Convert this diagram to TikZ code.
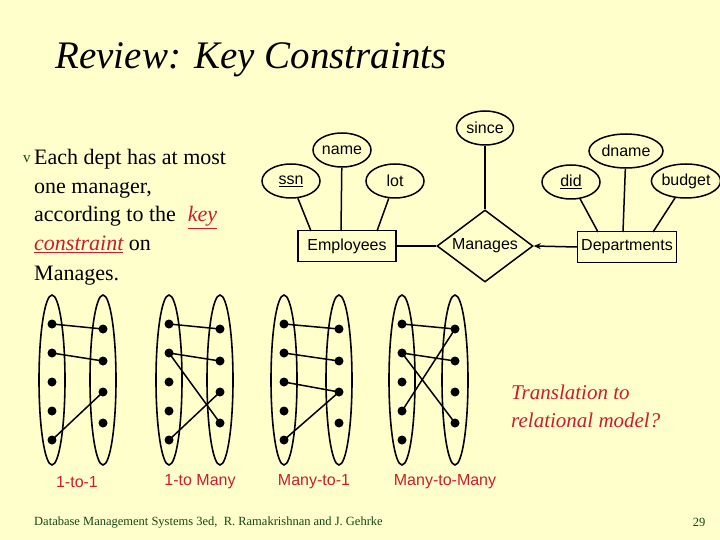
\documentclass[tikz,border=0pt]{standalone}
\usepackage{fontspec}
\setmainfont{Liberation Serif}
\newfontfamily\arialf{Liberation Sans}
\usetikzlibrary{shapes.geometric,arrows.meta}
\definecolor{bg}{RGB}{255,255,204}
\definecolor{lblred}{RGB}{200,30,50}
\definecolor{ftgreen}{RGB}{20,70,20}
\begin{document}
\begin{tikzpicture}[x=1pt,y=-1pt,
  attr/.style={ellipse,draw,line width=1.5pt,font=\arialf\fontsize{16}{18}\selectfont,inner sep=0pt,minimum height=34pt},
  ent/.style={rectangle,draw,line width=1.5pt,font=\arialf\fontsize{16}{18}\selectfont,minimum height=31pt,inner sep=0pt},
  rel/.style={diamond,draw,line width=1.5pt,font=\arialf\fontsize{16}{18}\selectfont,minimum width=96pt,minimum height=72pt,inner sep=0pt,aspect=1.33},
  ln/.style={line width=1.5pt},
  set/.style={ellipse,draw,line width=1.6pt,minimum width=26pt,minimum height=170pt,inner sep=0pt},
  dot/.style={circle,fill,inner sep=0pt,minimum size=9pt},
  body/.style={font=\fontsize{22}{24}\selectfont,anchor=base west,inner sep=0pt},
  lbl/.style={font=\arialf\fontsize{16}{18}\selectfont,text=lblred}]
\fill[bg] (0,0) rectangle (720,540);
\useasboundingbox (0,0) rectangle (720,540);
\node[anchor=west,font=\itshape\fontsize{39}{44}\selectfont] (title) at (52,60) {Review: Key Constraints};
\node[body,text=ftgreen,font=\fontsize{15}{16}\selectfont] (bul) at (23,163) {v};
\node[body] (t1) at (34,165) {Each dept has at most};
\node[body] (t2) at (34,194) {one manager,};
\node[body] (t3) at (34,222) {according to the\hspace{12pt}\textcolor{lblred}{\itshape\underline{key}}};
\node[body] (t4) at (34,251) {\textcolor{lblred}{\itshape\underline{constraint}} on};
\node[body] (t5) at (34,280) {Manages.};
% ER
\node[ent,minimum width=98pt] (emp) at (347,246) {Employees};
\node[rel] (man) at (485,246) {Manages};
\node[ent,minimum width=99pt] (dep) at (627,247) {Departments};
\node[attr,minimum width=57pt] (since) at (485,128) {since};
\node[attr,minimum width=58pt] (name) at (342,150) {name};
\node[attr,minimum width=58pt] (ssn) at (291,181) {\underline{ssn}};
\node[attr,minimum width=58pt] (lot) at (395,181) {lot};
\node[attr,minimum width=74pt] (dname) at (626,151) {dname};
\node[attr,minimum width=58pt] (did) at (571,182) {\underline{did}};
\node[attr,minimum width=67pt] (budget) at (686,181) {budget};
\draw[ln] (since) -- (man.north);
\draw[ln] (ssn) -- (311,231);
\draw[ln] (name) -- (341,231);
\draw[ln] (lot) -- (377,231);
\draw[ln] (did) -- (598,232);
\draw[ln] (dname) -- (623,232);
\draw[ln] (budget) -- (653,232);
\draw[ln] (emp.east) -- (man.west);
\draw[ln,-{Stealth[length=7pt,width=6pt]}] (dep.west) -- (man.east);
% sets
\foreach \g/\lx/\rx in {1/52/103,2/169/220,3/284/339,4/402/455}{
  \node[set] (L\g) at (\lx,380) {};
  \node[set] (R\g) at (\rx,380) {};
  \foreach \i/\y in {1/324,2/353,3/382,4/411,5/440}{\node[dot] (l\g\i) at (\lx,\y) {};}
  \foreach \i/\y in {1/329,2/361,3/392,4/423}{\node[dot] (r\g\i) at (\rx,\y) {};}
}
\draw[ln] (l11.center)--(r11.center) (l12.center)--(r12.center) (l15.center)--(r13.center);
\draw[ln] (l21.center)--(r21.center) (l22.center)--(r22.center) (l22.center)--(r24.center) (l25.center)--(r23.center);
\draw[ln] (l31.center)--(r31.center) (l32.center)--(r32.center) (l33.center)--(r33.center) (l35.center)--(r33.center);
\draw[ln] (l41.center)--(r41.center) (l42.center)--(r42.center) (l42.center)--(r44.center) (l44.center)--(r41.center);
\node[lbl] (a1) at (77,482) {1-to-1};
\node[lbl] (a2) at (200,482) {1-to Many};
\node[lbl] (a3) at (314,482) {Many-to-1};
\node[lbl] (a4) at (445,482) {Many-to-Many};
\node[anchor=west,align=left,text=lblred,font=\itshape\fontsize{21}{28}\selectfont,inner sep=0pt] (tr) at (511,406) {Translation to\\relational model?};
\node[anchor=west,text=ftgreen,font=\fontsize{12.5}{14}\selectfont,inner sep=0pt] (foot) at (34,523) {Database Management Systems 3ed,\ \ R. Ramakrishnan and J. Gehrke};
\node[text=ftgreen,font=\fontsize{12.5}{14}\selectfont,inner sep=0pt] (pg) at (699,522) {29};
\end{tikzpicture}
\end{document}
